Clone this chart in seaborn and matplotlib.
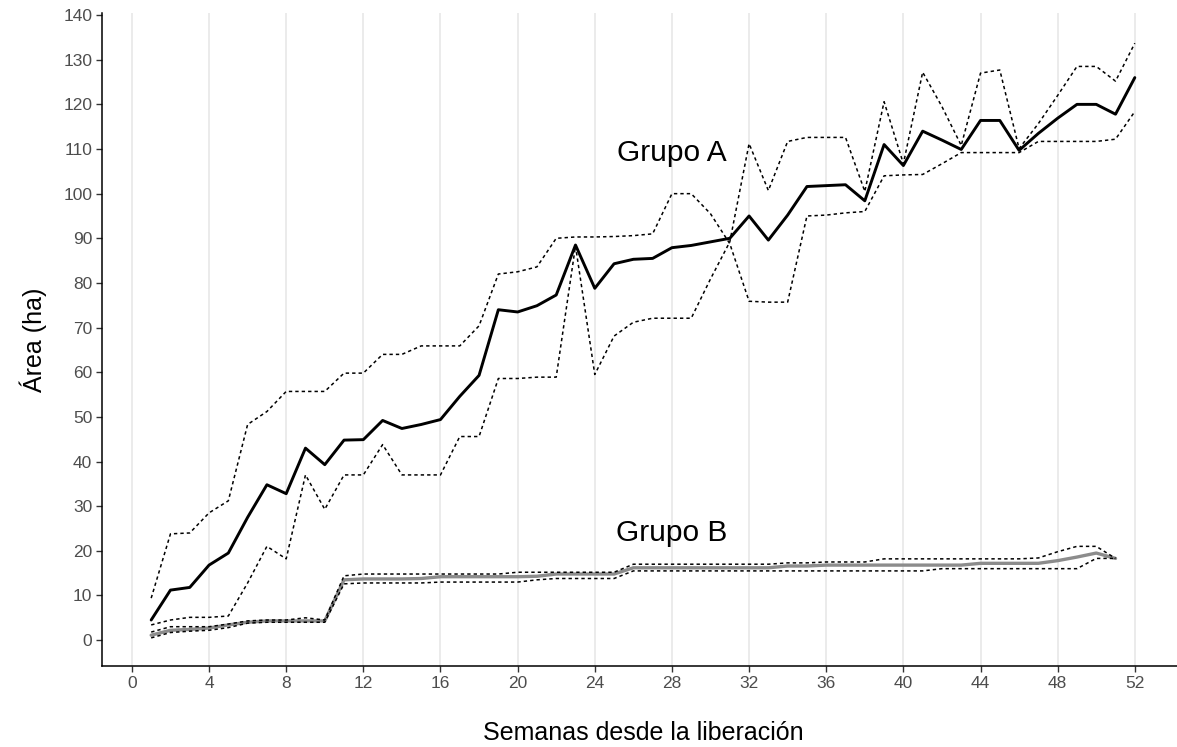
import matplotlib
matplotlib.use("Agg")
import matplotlib.pyplot as plt
import seaborn as sns
import pandas as pd

# Weeks since release
weeks_a = list(range(1, 53))
weeks_b = list(range(1, 52))

# Group A: mean area and the two limit curves (they cross around week 31)
a_mean = [4.5, 11.2, 11.8, 16.8, 19.5, 27.5, 34.8, 32.8, 43.0, 39.3,
          44.8, 44.9, 49.2, 47.4, 48.3, 49.4, 54.6, 59.3, 74.0, 73.5,
          74.9, 77.3, 88.5, 78.8, 84.3, 85.3, 85.5, 87.9, 88.4, 89.2,
          90.0, 95.0, 89.6, 95.2, 101.6, 101.8, 102.0, 98.4, 111.0, 106.3,
          114.0, 112.0, 109.9, 116.4, 116.4, 109.7, 113.5, 116.9, 120.0, 120.0,
          117.8, 126.0]
a_lim_1 = [9.4, 23.8, 24.0, 28.5, 31.2, 48.3, 51.2, 55.7, 55.7, 55.7,
           59.8, 59.8, 64.0, 64.0, 65.9, 65.9, 65.9, 70.4, 82.0, 82.5,
           83.6, 90.0, 90.3, 90.3, 90.4, 90.6, 91.0, 100.0, 100.0, 95.5,
           88.8, 75.9, 75.7, 75.7, 95.0, 95.2, 95.7, 96.0, 104.0, 104.2,
           104.3, 106.7, 109.2, 109.2, 109.2, 109.2, 111.7, 111.7, 111.7, 111.7,
           112.2, 118.4]
a_lim_2 = [3.4, 4.5, 5.1, 5.1, 5.4, 12.8, 21.0, 18.2, 37.0, 29.3,
           37.0, 37.0, 43.8, 37.0, 37.0, 37.0, 45.6, 45.6, 58.6, 58.6,
           58.9, 58.9, 88.3, 59.5, 68.1, 71.2, 72.1, 72.1, 72.1, 80.9,
           89.2, 111.2, 100.7, 111.7, 112.6, 112.6, 112.6, 100.5, 120.6, 106.7,
           127.2, 119.5, 110.8, 127.0, 127.7, 110.1, 115.7, 122.0, 128.5, 128.5,
           125.2, 133.7]

# Group B: mean area and limits
b_mean = [1.1, 2.2, 2.4, 2.7, 3.4, 4.0, 4.3, 4.3, 4.3, 4.3,
          13.5, 13.7, 13.7, 13.7, 13.8, 14.2, 14.2, 14.2, 14.2, 14.2,
          14.3, 14.8, 14.8, 14.8, 14.8, 16.2, 16.2, 16.2, 16.2, 16.2,
          16.2, 16.2, 16.2, 16.6, 16.6, 16.8, 16.8, 16.8, 16.8, 16.8,
          16.8, 16.8, 16.8, 17.2, 17.2, 17.2, 17.2, 17.8, 18.6, 19.5,
          18.3]
b_upper = [1.8, 3.0, 3.0, 3.0, 3.6, 4.3, 4.5, 4.5, 5.0, 4.5,
           14.4, 14.8, 14.8, 14.8, 14.8, 14.8, 14.8, 14.8, 14.8, 15.2,
           15.2, 15.2, 15.2, 15.2, 15.2, 17.0, 17.0, 17.0, 17.0, 17.0,
           17.0, 17.0, 17.0, 17.3, 17.3, 17.5, 17.5, 17.5, 18.2, 18.2,
           18.2, 18.2, 18.2, 18.2, 18.2, 18.2, 18.4, 19.8, 21.0, 21.0,
           18.3]
b_lower = [0.5, 1.7, 2.0, 2.2, 2.8, 3.8, 4.0, 4.0, 4.0, 4.0,
           12.6, 12.8, 12.8, 12.8, 12.8, 13.0, 13.0, 13.0, 13.0, 13.0,
           13.5, 13.8, 13.8, 13.8, 13.8, 15.5, 15.5, 15.5, 15.5, 15.5,
           15.5, 15.5, 15.5, 15.5, 15.5, 15.5, 15.5, 15.5, 15.5, 15.5,
           15.5, 16.0, 16.0, 16.0, 16.0, 16.0, 16.0, 16.0, 16.0, 18.3,
           18.3]

x_ticks = [0, 4, 8, 12, 16, 20, 24, 28, 32, 36, 40, 44, 48, 52]
y_ticks = [0, 10, 20, 30, 40, 50, 60, 70, 80, 90, 100, 110, 120, 130, 140]

sns.set_theme(style="white")
plt.rcParams["font.family"] = ["Liberation Sans", "DejaVu Sans"]

W, H = 1177, 747
fig = plt.figure(figsize=(W / 100, H / 100), dpi=100)
ax = fig.add_axes([102 / W, (H - 666) / H, (1184 - 102) / W, (666 - 13.3) / H])

df_a = pd.DataFrame({"semana": weeks_a, "media": a_mean, "lim1": a_lim_1, "lim2": a_lim_2})
df_b = pd.DataFrame({"semana": weeks_b, "media": b_mean, "sup": b_upper, "inf": b_lower})

dot = (0, (2.2, 2.0))
sns.lineplot(data=df_a, x="semana", y="lim1", ax=ax, color="black", lw=1.1, linestyle=dot)
sns.lineplot(data=df_a, x="semana", y="lim2", ax=ax, color="black", lw=1.1, linestyle=dot)
sns.lineplot(data=df_b, x="semana", y="media", ax=ax, color="#8c8c8c", lw=2.4)
sns.lineplot(data=df_b, x="semana", y="sup", ax=ax, color="black", lw=1.1, linestyle=dot)
sns.lineplot(data=df_b, x="semana", y="inf", ax=ax, color="black", lw=1.1, linestyle=dot)
sns.lineplot(data=df_a, x="semana", y="media", ax=ax, color="black", lw=2.1)

ax.text(28, 109, "Grupo A", fontsize=21.5, ha="center", va="center", color="black")
ax.text(28, 24, "Grupo B", fontsize=21.5, ha="center", va="center", color="black")

ax.set_xlim(-1.55, 54.55)
ax.set_ylim(-5.8, 140.4)
ax.set_xticks(x_ticks)
ax.set_yticks(y_ticks)
ax.grid(axis="x", color="#e6e6e6", lw=1.1)
ax.grid(axis="y", visible=False)
ax.set_axisbelow(True)

for side in ["top", "right"]:
    ax.spines[side].set_visible(False)
for side in ["left", "bottom"]:
    ax.spines[side].set_color("black")
    ax.spines[side].set_linewidth(1.1)

ax.tick_params(axis="both", which="major", length=4, width=1.0, color="#333333",
               labelsize=12.5, labelcolor="#4d4d4d", pad=3, direction="out",
               bottom=True, left=True)

ax.set_xlabel("Semanas desde la liberación", fontsize=18, color="black", labelpad=22)
ax.set_ylabel("Área (ha)", fontsize=18, color="black", labelpad=12)

fig.savefig("out.png", dpi=100)
